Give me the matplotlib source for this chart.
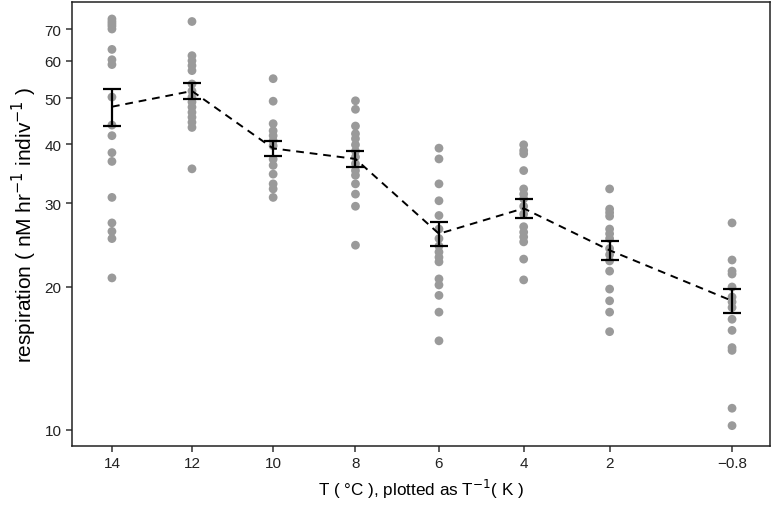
import numpy as np
import matplotlib
matplotlib.use("Agg")
import matplotlib.pyplot as plt
from matplotlib.ticker import FixedLocator, FixedFormatter, NullLocator

plt.rcParams['font.family'] = ['Liberation Sans', 'DejaVu Sans']

temps_c = [14, 12, 10, 8, 6, 4, 2, -0.8]
temp_labels = ["14", "12", "10", "8", "6", "4", "2", "\u22120.8"]

resp_14 = [73.5, 72.6, 71.8, 71.0, 70.0, 63.4, 60.3, 58.9, 50.3, 43.9, 41.7, 38.4, 36.8, 30.9, 27.3, 26.2, 25.3, 20.9]
resp_12 = [72.6, 61.5, 60.0, 58.6, 57.2, 53.6, 51.8, 50.3, 49.1, 47.9, 46.7, 45.6, 44.5, 43.4, 35.5]
resp_10 = [55.0, 49.3, 44.2, 42.7, 41.7, 40.7, 39.7, 37.2, 36.1, 34.6, 33.0, 32.2, 30.9]
resp_8 = [49.4, 47.4, 43.7, 42.1, 41.1, 39.9, 38.7, 37.6, 36.4, 35.2, 34.4, 33.0, 31.4, 29.6, 24.5]
resp_6 = [39.25, 37.25, 33.0, 30.4, 28.3, 26.5, 25.3, 24.4, 23.7, 23.1, 22.6, 20.8, 20.2, 19.2, 17.7, 15.4]
resp_4 = [39.9, 38.8, 38.2, 35.2, 32.2, 31.4, 30.7, 29.6, 28.5, 26.8, 26.1, 25.5, 24.9, 22.9, 20.7]
resp_2 = [32.2, 29.2, 28.7, 28.2, 26.5, 25.9, 25.3, 24.1, 23.4, 22.7, 21.6, 19.8, 18.7, 17.7, 16.1]
resp_m08 = [27.3, 22.8, 21.6, 21.3, 20.0, 19.05, 18.6, 18.1, 17.1, 16.2, 14.9, 14.7, 11.1, 10.2]

mean_resp = [48.0, 51.8, 39.2, 37.25, 25.9, 29.3, 23.9, 18.7]
se_resp = [4.25, 2.05, 1.4, 1.4, 1.5, 1.3, 1.1, 1.1]

y_ticks = [10, 20, 30, 40, 50, 60, 70]

groups = [resp_14, resp_12, resp_10, resp_8, resp_6, resp_4, resp_2, resp_m08]
inv_k = [1.0 / (t + 273.15) for t in temps_c]

fig = plt.figure(figsize=(7.73, 5.06), dpi=100)
ax = fig.add_axes([0.0931, 0.1166, 0.9029, 0.8774])

for xk, vals in zip(inv_k, groups):
    ax.scatter([xk] * len(vals), vals, s=40, color='#9a9a9a', edgecolors='none', zorder=2)

ax.plot(inv_k, mean_resp, linestyle=(0, (4, 3)), color='black', lw=1.4, zorder=3)
ax.errorbar(inv_k, mean_resp, yerr=se_resp, fmt='none', ecolor='black',
            elinewidth=1.6, capsize=6.5, capthick=1.6, zorder=4)

ax.set_yscale('log')
ax.set_ylim(9.24, 79.8)
ax.yaxis.set_major_locator(FixedLocator(y_ticks))
ax.yaxis.set_major_formatter(FixedFormatter([str(v) for v in y_ticks]))
ax.yaxis.set_minor_locator(NullLocator())

ax.set_xlim(0.0034703, 0.0036833)
ax.set_xticks(inv_k)
ax.set_xticklabels(temp_labels)

ax.tick_params(axis='both', direction='out', length=4, width=1.1, colors='#333333',
               labelsize=11, labelcolor='#222222')
for sp in ax.spines.values():
    sp.set_linewidth(1.1)
    sp.set_color('#222222')

ax.set_xlabel("T ( \u00b0C ), plotted as T$^{-1}$( K )", fontsize=12.3, labelpad=5)
ax.set_ylabel("respiration ( nM hr$^{-1}$ indiv$^{-1}$ )", fontsize=15, labelpad=4)

fig.savefig("out.png", dpi=100)
